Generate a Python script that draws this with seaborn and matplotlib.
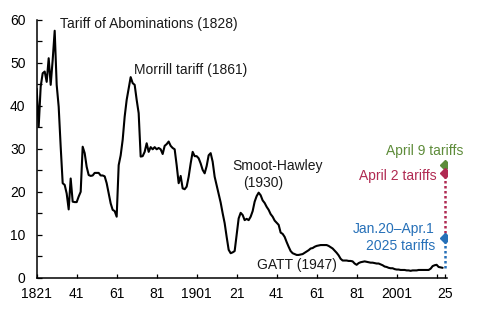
import matplotlib
matplotlib.use("Agg")
import matplotlib.pyplot as plt
from matplotlib import font_manager
from matplotlib.ticker import FixedLocator, MultipleLocator
import pandas as pd
import seaborn as sns

# Average U.S. tariff rate on imports, percent, 1821-2024
years = list(range(1821, 2025))
tariff_rate = [
    44.0, 35.2, 44.5, 47.6, 48.0, 45.6, 51.1, 44.9, 50.7, 57.5,   # 1821-1830
    44.9, 39.8, 30.5, 22.0, 21.6, 19.6, 15.9, 23.1, 17.7, 17.6,   # 1831-1840
    17.6, 18.9, 20.0, 30.5, 29.0, 25.8, 23.9, 23.7, 23.8, 24.4,   # 1841-1850
    24.4, 24.4, 23.8, 23.8, 23.6, 22.0, 19.6, 17.3, 15.8, 15.5,   # 1851-1860
    14.2, 26.2, 28.5, 32.1, 37.5, 41.4, 44.1, 46.7, 45.3, 44.9,   # 1861-1870
    41.4, 38.3, 28.2, 28.3, 29.3, 31.3, 29.3, 30.4, 29.9, 30.4,   # 1871-1880
    29.9, 30.2, 29.9, 28.8, 30.7, 31.1, 31.7, 30.7, 30.2, 29.9,   # 1881-1890
    26.2, 22.0, 23.7, 20.8, 20.6, 21.2, 23.5, 26.6, 29.3, 28.3,   # 1891-1900
    28.3, 27.8, 26.6, 25.1, 24.3, 26.0, 28.5, 29.0, 27.0, 23.5,   # 1901-1910
    21.5, 19.6, 17.5, 15.0, 12.7, 9.5, 6.5, 5.7, 5.9, 6.2,        # 1911-1920
    10.0, 13.8, 15.1, 14.6, 13.4, 13.7, 13.4, 14.2, 15.5, 17.7,   # 1921-1930
    19.0, 19.8, 19.2, 18.0, 17.4, 16.5, 15.8, 14.8, 14.2, 13.3,   # 1931-1940
    12.8, 12.3, 10.5, 10.2, 9.5, 8.3, 7.2, 6.2, 5.7, 5.5,         # 1941-1950
    5.3, 5.3, 5.4, 5.5, 5.8, 6.1, 6.4, 6.8, 6.9, 7.2,             # 1951-1960
    7.4, 7.5, 7.6, 7.6, 7.6, 7.6, 7.4, 7.1, 6.8, 6.3,             # 1961-1970
    5.8, 5.2, 4.4, 4.0, 4.0, 4.0, 3.9, 3.9, 3.8, 3.3,             # 1971-1980
    3.0, 3.4, 3.6, 3.7, 3.8, 3.7, 3.6, 3.5, 3.5, 3.4,             # 1981-1990
    3.3, 3.3, 3.1, 2.9, 2.6, 2.5, 2.3, 2.2, 2.2, 2.0,             # 1991-2000
    1.9, 1.9, 1.8, 1.8, 1.8, 1.7, 1.7, 1.6, 1.7, 1.7,             # 2001-2010
    1.7, 1.8, 1.8, 1.8, 1.8, 1.8, 1.8, 2.1, 2.7, 2.9,             # 2011-2020
    3.0, 2.5, 2.4, 2.3,                                           # 2021-2024
]

# 2025 scenarios
scenario_year = 2025
rate_jan20_apr1 = 9.25
rate_april2 = 24.4
rate_april9 = 26.3

x_ticks = [1821, 1841, 1861, 1881, 1901, 1921, 1941, 1961, 1981, 2001, 2025]
x_tick_labels = ["1821", "41", "61", "81", "1901", "21", "41", "61", "81", "2001", "25"]
y_ticks = [0, 10, 20, 30, 40, 50, 60]

blue = "#2670b8"
crimson = "#b02a52"
green = "#5e8c3a"

sns.set_theme(style="ticks")
installed = {f.name for f in font_manager.fontManager.ttflist}
base_font = "Liberation Sans" if "Liberation Sans" in installed else "DejaVu Sans"
tick_font = "Liberation Sans Narrow" if "Liberation Sans Narrow" in installed else base_font
plt.rcParams["font.family"] = [base_font, "DejaVu Sans"]

fig = plt.figure(figsize=(4.84, 3.21), dpi=100)
ax = fig.add_axes([0.0758, 0.1349, 0.8478, 0.8028])

df = pd.DataFrame({"year": years, "rate": tariff_rate})
sns.lineplot(data=df, x="year", y="rate", color="black", linewidth=1.5, ax=ax)

# 2025 scenario stems and markers
last_rate = tariff_rate[-1]
dots = (0, (1, 1))
ax.plot([scenario_year, scenario_year], [last_rate, rate_jan20_apr1],
        color=blue, linestyle=dots, linewidth=1.8, zorder=3)
ax.plot([scenario_year, scenario_year], [rate_jan20_apr1, rate_april2],
        color=crimson, linestyle=dots, linewidth=1.8, zorder=3)
ax.plot([scenario_year], [rate_april9], marker="D", markersize=4.8,
        color=green, linestyle="none", zorder=4)
ax.plot([scenario_year], [rate_april2], marker="D", markersize=4.8,
        color=crimson, linestyle="none", zorder=5)
ax.plot([scenario_year], [rate_jan20_apr1], marker="D", markersize=4.8,
        color=blue, linestyle="none", zorder=5)

ax.set_xlim(1821, 2026.2)
ax.set_ylim(0, 60)
ax.xaxis.set_major_locator(FixedLocator(x_ticks))
ax.set_xticklabels(x_tick_labels)
ax.xaxis.set_minor_locator(FixedLocator([2021]))
ax.yaxis.set_major_locator(FixedLocator(y_ticks))
ax.yaxis.set_minor_locator(MultipleLocator(5))
ax.set_xlabel("")
ax.set_ylabel("")

sns.despine(ax=ax)
for side in ("left", "bottom"):
    ax.spines[side].set_linewidth(1.1)
    ax.spines[side].set_color("black")

ax.tick_params(axis="both", which="both", direction="in", color="black",
               width=0.9, labelsize=10, labelcolor="black")
ax.tick_params(axis="y", which="both", length=3.6, pad=8)
ax.tick_params(axis="x", which="both", length=3.0, pad=7)
for lab in ax.get_xticklabels() + ax.get_yticklabels():
    lab.set_fontfamily([tick_font, "DejaVu Sans"])

text_kw = dict(fontsize=10, color="#1a1a1a")
ax.text(1832.6, 59.1, "Tariff of Abominations (1828)", ha="left", va="center", **text_kw)
ax.text(1869.8, 48.4, "Morrill tariff (1861)", ha="left", va="center", **text_kw)
ax.text(1941.4, 26.1, "Smoot-Hawley", ha="center", va="center", **text_kw)
ax.text(1934.1, 22.0, "(1930)", ha="center", va="center", **text_kw)
ax.text(1951.0, 3.0, "GATT (1947)", ha="center", va="center", **text_kw)

ax.text(2014.9, 29.5, "April 9 tariffs", ha="center", va="center", fontsize=10, color=green)
ax.text(2021.0, 23.7, "April 2 tariffs", ha="right", va="center", fontsize=10, color=crimson)
ax.text(2019.8, 11.3, "Jan.20\u2013Apr.1", ha="right", va="center", fontsize=10, color=blue)
ax.text(2020.2, 7.45, "2025 tariffs", ha="right", va="center", fontsize=10, color=blue)

fig.savefig("out.png", dpi=100)
